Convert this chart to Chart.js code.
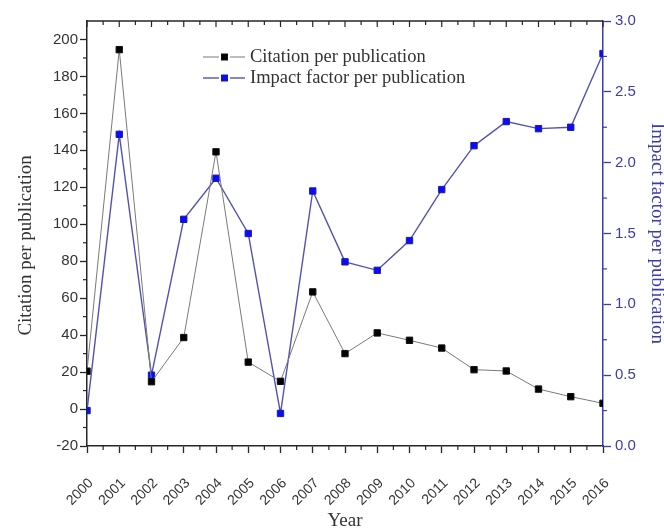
<!DOCTYPE html>
<html>
<head>
<meta charset="utf-8">
<script src="https://cdn.jsdelivr.net/npm/chart.js@4.4.1/dist/chart.umd.min.js"></script>
<style>
  html, body { margin: 0; padding: 0; background: #fff; }
  #wrap { width: 664px; height: 530px; }
</style>
</head>
<body>
<div id="wrap"><canvas id="chart" width="664" height="530"></canvas></div>
<script>
  "use strict";

  const years = [2000, 2001, 2002, 2003, 2004, 2005, 2006, 2007, 2008, 2009, 2010, 2011, 2012, 2013, 2014, 2015, 2016];
  const citationPerPub = [20.5, 194.5, 14.8, 38.7, 139.2, 25.4, 15.0, 63.4, 30.0, 41.2, 37.2, 33.0, 21.3, 20.6, 10.8, 6.7, 3.1];
  const impactPerPub = [0.25, 2.20, 0.50, 1.60, 1.89, 1.50, 0.23, 1.80, 1.30, 1.24, 1.45, 1.81, 2.12, 2.29, 2.24, 2.25, 2.77];
  const seriesNames = ["Citation per publication", "Impact factor per publication"];

  const DARK = "#262626";
  const TEXT = "#333333";
  const BLUE_AXIS = "#3b3bb4";
  const SANS = "'Liberation Sans', Arial, sans-serif";
  const SERIF = "'Liberation Serif', 'Times New Roman', serif";

  const points = (values) => values.map((v, i) => ({ x: years[i], y: v }));

  // minor ticks, the mirrored top axis and the line+marker legend
  const axisMarks = {
    id: "axisMarks",
    afterDraw(chart) {
      const { ctx, chartArea: a, scales } = chart;
      const seg = (x1, y1, x2, y2) => { ctx.beginPath(); ctx.moveTo(x1, y1); ctx.lineTo(x2, y2); ctx.stroke(); };
      ctx.save();
      ctx.strokeStyle = DARK;
      ctx.lineWidth = 1.5;
      seg(a.left, a.top, a.right, a.top);
      ctx.lineWidth = 1.2;
      for (let v = years[0]; v <= years[years.length - 1]; v += 0.5) {
        const px = scales.x.getPixelForValue(v);
        const major = Number.isInteger(v);
        if (!major) seg(px, a.bottom, px, a.bottom + 4);
        seg(px, a.top, px, a.top + (major ? 6 : 4));
      }
      for (let v = -10; v < 210; v += 20) {
        const py = scales.y.getPixelForValue(v);
        seg(a.left - 4, py, a.left, py);
      }
      ctx.strokeStyle = BLUE_AXIS;
      for (let v = 0.25; v < 3; v += 0.5) {
        const py = scales.y2.getPixelForValue(v);
        seg(a.right, py, a.right + 4, py);
      }

      const lx = a.left + 116;
      chart.data.datasets.forEach((ds, i) => {
        const ly = a.top + 36 + i * 21;
        ctx.strokeStyle = ds.borderColor;
        ctx.lineWidth = ds.borderWidth;
        seg(lx, ly, lx + 16, ly);
        seg(lx + 27, ly, lx + 42, ly);
        ctx.fillStyle = ds.pointBackgroundColor;
        ctx.strokeStyle = ds.pointBorderColor;
        ctx.lineWidth = 1;
        ctx.fillRect(lx + 18.5, ly - 3, 6, 6);
        ctx.strokeRect(lx + 18.5, ly - 3, 6, 6);
        ctx.fillStyle = TEXT;
        ctx.font = "18.5px " + SERIF;
        ctx.textBaseline = "middle";
        ctx.fillText(ds.label, lx + 47, ly);
      });
      ctx.restore();
    }
  };

  new Chart(document.getElementById("chart"), {
    type: "line",
    data: {
      datasets: [
        {
          label: seriesNames[0],
          data: points(citationPerPub),
          yAxisID: "y",
          borderColor: "#7a7a7a",
          borderWidth: 1,
          pointStyle: "rect",
          pointRadius: 4.5,
          pointBorderWidth: 1,
          pointBackgroundColor: "#000000",
          pointBorderColor: "#111111",
          tension: 0
        },
        {
          label: seriesNames[1],
          data: points(impactPerPub),
          yAxisID: "y2",
          borderColor: "#5252b4",
          borderWidth: 1.4,
          pointStyle: "rect",
          pointRadius: 4.5,
          pointBorderWidth: 1,
          pointBackgroundColor: "#0a0aff",
          pointBorderColor: "#1c1ca8",
          tension: 0
        }
      ]
    },
    options: {
      responsive: false,
      animation: false,
      layout: { padding: { top: 21, left: 0, right: 0, bottom: 0 } },
      plugins: { legend: { display: false }, tooltip: { enabled: false } },
      scales: {
        x: {
          type: "linear",
          min: 2000,
          max: 2016,
          afterFit: (s) => { s.height = 84; },
          grid: { drawOnChartArea: false, tickLength: 7, color: DARK, tickWidth: 1.3 },
          border: { color: DARK, width: 1.5 },
          ticks: {
            stepSize: 1,
            autoSkip: false,
            minRotation: 45,
            maxRotation: 45,
            padding: 22,
            labelOffset: 4,
            color: TEXT,
            font: { family: SANS, size: 14 },
            callback: (v) => String(v)
          },
          title: {
            display: true,
            text: "Year",
            color: TEXT,
            font: { family: SERIF, size: 19, lineHeight: 1 },
            padding: { top: 0, bottom: -1 }
          }
        },
        y: {
          position: "left",
          min: -20,
          max: 210,
          afterFit: (s) => { s.width = 87; },
          afterBuildTicks: (s) => { s.ticks = s.ticks.filter((t) => t.value <= 200); },
          grid: { drawOnChartArea: false, tickLength: 7, color: DARK, tickWidth: 1.3 },
          border: { color: DARK, width: 1.5 },
          ticks: { stepSize: 20, padding: 2, color: TEXT, font: { family: SANS, size: 15 } },
          title: {
            display: true,
            text: "Citation per publication     ",
            color: TEXT,
            font: { family: SERIF, size: 19, lineHeight: 1 },
            padding: { top: 17, bottom: 0 }
          }
        },
        y2: {
          position: "right",
          min: 0,
          max: 3,
          afterFit: (s) => { s.width = 61; },
          grid: { drawOnChartArea: false, tickLength: 8, color: BLUE_AXIS, tickWidth: 1.3 },
          border: { color: BLUE_AXIS, width: 1.5 },
          ticks: {
            stepSize: 0.5,
            padding: 4,
            color: BLUE_AXIS,
            font: { family: SANS, size: 15 },
            callback: (v) => v.toFixed(1)
          },
          title: {
            display: true,
            text: "Impact factor per publication",
            color: BLUE_AXIS,
            font: { family: SERIF, size: 19, lineHeight: 1 },
            padding: { top: -2, bottom: 0 }
          }
        }
      }
    },
    plugins: [axisMarks]
  });
</script>
</body>
</html>
